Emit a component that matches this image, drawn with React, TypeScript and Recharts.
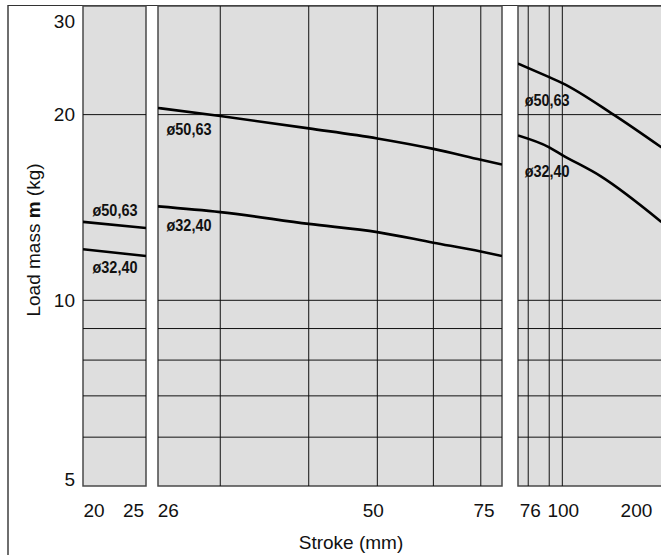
import React from 'react';
import { LineChart, Line, XAxis, YAxis, ReferenceLine, ReferenceArea, ReferenceDot } from 'recharts';

// ---- Y axis (load mass, kg, log) ----
const Y_DOMAIN = [5, 30];
const Y_TICKS = [5, 10, 20, 30];
const Y_GRID = [6, 7, 8, 9, 10, 20];

// ---- Panel 1: stroke 20–25 ----
const P1_DOMAIN = [20, 25];
const P1_TICKS = [20, 25];
const P1_STROKE = [20, 25];
const P1_D50 = [13.4, 13.1];
const P1_D32 = [12.1, 11.8];

// ---- Panel 2: stroke 26–75 ----
const P2_DOMAIN = [24.5, 75];
const P2_TICKS = [26, 50, 75];
const P2_GRID = [30, 40, 50, 60, 70];
const P2_STROKE = [24.5, 30, 40, 50, 60, 70, 75];
const P2_D50 = [20.5, 19.9, 19.0, 18.3, 17.6, 16.9, 16.6];
const P2_D32 = [14.2, 13.9, 13.3, 12.9, 12.4, 12.0, 11.8];

// ---- Panel 3: stroke 76– ----
const P3_DOMAIN = [70, 350];
const P3_TICKS = [76, 100, 200];
const P3_GRID = [76, 90, 100];
const P3_STROKE_50 = [70, 90, 100, 151, 222];
const P3_D50 = [24.2, 23.0, 22.5, 20.0, 17.7];
const P3_STROKE_32 = [70, 90, 100, 136, 222];
const P3_D32 = [18.5, 17.7, 17.2, 15.9, 13.4];

// ---- curve labels ----
const LABEL_50 = 'ø50,63';
const LABEL_32 = 'ø32,40';
const P1_LABEL_X = 22.4;
const P1_LABEL_Y = [14.0, 11.3];
const P2_LABEL_X = 27.1;
const P2_LABEL_Y = [18.9, 13.2];
const P3_LABEL_X = 88.5;
const P3_LABEL_Y = [21.1, 16.2];

const Y_TITLE_A = 'Load mass ';
const Y_TITLE_B = 'm';
const Y_TITLE_C = ' (kg)';
const X_TITLE = 'Stroke (mm)';

const FONT = "'Liberation Sans', Arial, Helvetica, sans-serif";
const PLOT_TOP = 6;
const PLOT_BOTTOM = 486;
const CHART_H = 555;
const X_AXIS_H = CHART_H - PLOT_BOTTOM;
const TICK_FS = 19;
const PAD = 24;

const zip = (xs: number[], ys: number[]) => xs.map((x, i) => ({ x, y: ys[i] }));

const makeXTick = (dxs: number[]) => (props: any) => {
  const { x, y, payload, index } = props;
  return (
    <text x={x + (dxs[index] || 0)} y={y} dy="0.71em" textAnchor="middle" fontSize={TICK_FS} fontFamily={FONT} fill="#111">
      {payload.value}
    </text>
  );
};

const YTick = (props: any) => {
  const { x, y, payload } = props;
  const ty = Math.min(Math.max(y, PLOT_TOP + 15), PLOT_BOTTOM - 7);
  return (
    <text x={x} y={ty} dy="0.355em" textAnchor="end" fontSize={TICK_FS} fontFamily={FONT} fill="#111">
      {payload.value}
    </text>
  );
};

const YTitle = (props: any) => {
  const vb = props.viewBox || {};
  const cx = 33;
  const cy = (vb.y || PLOT_TOP) + (vb.height || PLOT_BOTTOM - PLOT_TOP) / 2 - 6;
  return (
    <text x={cx} y={cy} transform={`rotate(-90 ${cx} ${cy})`} textAnchor="middle" dominantBaseline="central" fontSize={TICK_FS} fontFamily={FONT} fill="#111">
      <tspan>{Y_TITLE_A}</tspan>
      <tspan fontWeight="bold">{Y_TITLE_B}</tspan>
      <tspan>{Y_TITLE_C}</tspan>
    </text>
  );
};

const XTitle = (props: any) => {
  const vb = props.viewBox || {};
  const cx = (vb.x || 0) + (vb.width || 0) / 2 + 21;
  const cy = CHART_H - 13;
  return (
    <text x={cx} y={cy} textAnchor="middle" dominantBaseline="central" fontSize={TICK_FS} fontFamily={FONT} fill="#111">
      {X_TITLE}
    </text>
  );
};

const CurveLabel = (text: string) => (p: any) => (
  <text
    x={p.cx}
    y={p.cy}
    textAnchor="middle"
    dominantBaseline="central"
    fontSize={16}
    fontWeight="bold"
    fontFamily={FONT}
    fill="#111"
    textLength={45}
    lengthAdjust="spacingAndGlyphs"
  >
    {text}
  </text>
);

type PanelProps = {
  left: number;
  width: number;
  domain: number[];
  ticks: number[];
  dxs: number[];
  grid: number[];
  series: { data: { x: number; y: number }[] }[];
  labels: { x: number; y: number; text: string }[];
  withY?: boolean;
  withXTitle?: boolean;
};

const Panel = ({ left, width, domain, ticks, dxs, grid, series, labels, withY, withXTitle }: PanelProps) => {
  const yW = withY ? 83 : 0;
  const padL = withY ? 0 : PAD;
  return (
    <div style={{ position: 'absolute', left: left - yW - padL, top: 0 }}>
      <LineChart width={width + yW + padL + PAD} height={CHART_H} margin={{ top: PLOT_TOP, right: PAD, bottom: 0, left: padL }}>
        <XAxis
          type="number"
          dataKey="x"
          scale="log"
          domain={domain}
          allowDataOverflow
          ticks={ticks}
          interval={0}
          axisLine={false}
          tickLine={false}
          tickSize={6}
          tickMargin={12}
          height={X_AXIS_H}
          tick={makeXTick(dxs)}
          label={withXTitle ? <XTitle /> : undefined}
        />
        <YAxis
          type="number"
          dataKey="y"
          scale="log"
          domain={Y_DOMAIN}
          allowDataOverflow
          ticks={Y_TICKS}
          interval={0}
          hide={!withY}
          width={yW}
          axisLine={false}
          tickLine={false}
          tickSize={6}
          tickMargin={2}
          tick={<YTick />}
          label={withY ? <YTitle /> : undefined}
        />
        <ReferenceArea x1={domain[0]} x2={domain[1]} y1={Y_DOMAIN[0]} y2={Y_DOMAIN[1]} fill="#dedede" fillOpacity={1} stroke="#4a4a4a" strokeWidth={1.5} ifOverflow="visible" />
        {Y_GRID.map((v) => (
          <ReferenceLine key={'h' + v} y={v} stroke="#111" strokeWidth={1} />
        ))}
        {grid.map((v) => (
          <ReferenceLine key={'v' + v} x={v} stroke="#111" strokeWidth={1} />
        ))}
        {series.map((s, i) => (
          <Line key={i} data={s.data} dataKey="y" type="monotone" stroke="#000" strokeWidth={2.6} dot={false} isAnimationActive={false} />
        ))}
        {labels.map((l, i) => (
          <ReferenceDot key={'l' + i} x={l.x} y={l.y} r={0} shape={CurveLabel(l.text)} />
        ))}
      </LineChart>
    </div>
  );
};

export default function App() {
  return (
    <div style={{ position: 'fixed', left: 0, top: 0, width: 661, height: 555, overflow: 'hidden', background: '#fff' }}>
      <div style={{ position: 'absolute', left: 7, top: 5, width: 2, height: 560, background: '#6e6e6e' }} />
      <div style={{ position: 'absolute', left: 8, top: 5, width: 700, height: 1, background: '#333' }} />
      <Panel
        left={83}
        width={63}
        domain={P1_DOMAIN}
        ticks={P1_TICKS}
        dxs={[11, -12.5]}
        grid={[]}
        series={[{ data: zip(P1_STROKE, P1_D50) }, { data: zip(P1_STROKE, P1_D32) }]}
        labels={[
          { x: P1_LABEL_X, y: P1_LABEL_Y[0], text: LABEL_50 },
          { x: P1_LABEL_X, y: P1_LABEL_Y[1], text: LABEL_32 },
        ]}
        withY
      />
      <Panel
        left={158}
        width={344}
        domain={P2_DOMAIN}
        ticks={P2_TICKS}
        dxs={[-8, -4, -18]}
        grid={P2_GRID}
        series={[{ data: zip(P2_STROKE, P2_D50) }, { data: zip(P2_STROKE, P2_D32) }]}
        labels={[
          { x: P2_LABEL_X, y: P2_LABEL_Y[0], text: LABEL_50 },
          { x: P2_LABEL_X, y: P2_LABEL_Y[1], text: LABEL_32 },
        ]}
        withXTitle
      />
      <Panel
        left={518}
        width={200}
        domain={P3_DOMAIN}
        ticks={P3_TICKS}
        dxs={[2, 1, -12]}
        grid={P3_GRID}
        series={[{ data: zip(P3_STROKE_50, P3_D50) }, { data: zip(P3_STROKE_32, P3_D32) }]}
        labels={[
          { x: P3_LABEL_X, y: P3_LABEL_Y[0], text: LABEL_50 },
          { x: P3_LABEL_X, y: P3_LABEL_Y[1], text: LABEL_32 },
        ]}
      />
    </div>
  );
}
